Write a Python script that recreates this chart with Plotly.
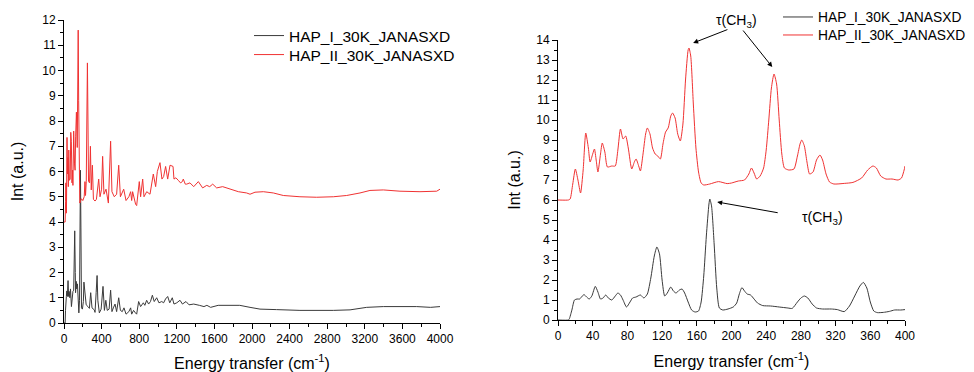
import plotly.graph_objects as go

# ---------------- Left panel data (0-4000 cm-1) ----------------
left_red_x = [0, 12, 17, 20, 26, 32, 37, 42, 46, 51, 57, 66, 72, 75, 78, 85, 90, 95, 103, 112, 118,
              124, 132, 141, 146, 151, 156, 162, 168, 185, 200, 215, 223, 229, 237, 243, 249, 255, 261,
              272, 281, 290, 302, 313, 330, 345, 369, 383, 400, 411, 425, 447, 472, 496, 510, 535, 560,
              582, 600, 635, 660, 690, 709, 720, 730, 762, 773, 801, 815, 837, 851, 880, 915, 950, 975,
              993, 1021, 1042, 1060, 1081, 1103, 1128, 1160, 1170, 1190, 1216, 1240, 1259, 1269, 1290,
              1305, 1340, 1380, 1429, 1475, 1518, 1550, 1582, 1624, 1688, 1766, 1855, 1943, 1979, 2032,
              2121, 2227, 2333, 2510, 2688, 2865, 3007, 3149, 3255, 3397, 3574, 3787, 3965, 4000]
left_red_y = [4.0, 4.0, 4.8, 5.55, 4.35, 7.35, 5.9, 6.55, 5.4, 6.85, 5.65, 5.7, 7.55, 7.05, 7.2, 5.55,
              6.05, 5.45, 7.6, 6.3, 6.05, 7.4, 8.35, 6.95, 9.0, 11.6, 8.8, 5.4, 4.75, 4.92, 4.85, 5.0,
              5.6, 5.05, 5.6, 8.0, 10.3, 8.0, 5.6, 5.55, 7.0, 5.27, 6.25, 4.9, 4.83, 4.9, 5.7, 5.0, 5.3,
              6.6, 5.1, 5.3, 4.75, 7.2, 5.2, 5.0, 5.1, 6.25, 5.0, 5.3, 4.85, 5.0, 5.2, 4.85, 5.2, 4.7,
              4.65, 5.6, 5.0, 5.7, 5.0, 5.2, 5.1, 5.9, 5.4, 6.0, 6.35, 5.7, 5.8, 6.2, 5.7, 6.25, 6.2,
              5.7, 5.75, 5.65, 5.55, 5.6, 5.7, 5.5, 5.5, 5.55, 5.4, 5.6, 5.35, 5.45, 5.4, 5.5, 5.35,
              5.4, 5.3, 5.2, 5.15, 5.1, 5.18, 5.2, 5.15, 5.05, 5.0, 4.98, 5.0, 5.05, 5.15, 5.25, 5.27,
              5.22, 5.2, 5.22, 5.3]

left_black_x = [0, 12, 16, 19, 25, 30, 36, 43, 49, 55, 62, 69, 79, 86, 95, 103, 107, 114, 120, 123,
                130, 136, 143, 150, 158, 165, 171, 175, 180, 186, 196, 206, 212, 222, 236, 255, 270,
                284, 298, 322, 330, 342, 352, 360, 376, 395, 415, 430, 445, 460, 480, 496, 510, 525,
                543, 560, 582, 600, 620, 638, 660, 690, 709, 720, 740, 760, 773, 794, 815, 844, 860,
                879, 900, 920, 940, 960, 986, 1010, 1040, 1060, 1080, 1103, 1125, 1152, 1170, 1200,
                1234, 1260, 1298, 1330, 1380, 1440, 1489, 1520, 1560, 1640, 1801, 1870, 1979, 2085,
                2262, 2510, 2865, 3043, 3220, 3397, 3752, 3900, 4000]
left_black_y = [0.0, 0.0, 0.5, 1.0, 1.05, 1.27, 1.05, 1.68, 1.05, 1.25, 1.0, 1.35, 0.65, 1.1, 1.25,
                1.3, 2.1, 3.65, 2.0, 1.2, 1.65, 1.35, 1.55, 0.9, 0.4, 0.9, 4.2, 6.05, 3.8, 0.6, 0.55,
                0.85, 1.62, 1.25, 0.72, 0.65, 0.58, 1.2, 0.6, 0.52, 0.42, 1.2, 1.88, 0.9, 0.4, 0.55,
                1.45, 0.5, 0.9, 0.5, 0.55, 1.3, 0.45, 0.6, 0.75, 0.45, 1.0, 0.5, 0.45, 0.6, 0.35, 0.45,
                0.6, 0.35, 0.5, 0.4, 0.35, 0.85, 0.65, 0.8, 0.7, 0.9, 0.75, 0.85, 1.1, 0.85, 1.0, 0.8,
                0.85, 0.8, 0.95, 1.05, 0.8, 1.0, 0.75, 0.8, 0.9, 0.75, 0.85, 0.72, 0.75, 0.7, 0.65,
                0.7, 0.62, 0.7, 0.72, 0.7, 0.62, 0.55, 0.53, 0.5, 0.5, 0.52, 0.62, 0.65, 0.65, 0.62,
                0.65]

# ---------------- Right panel data (0-400 cm-1) ----------------
right_red_x = [0, 12, 14, 17, 20, 23, 26, 29, 32, 35, 37, 40, 42, 44, 46, 49, 51, 54, 57, 62, 66, 69,
               72, 75, 78, 81, 85, 88, 90, 93, 95, 98, 101, 103, 106, 109, 112, 115, 118, 121, 124,
               127, 130, 132, 135, 138, 141, 144, 147, 150, 151, 153, 156, 159, 162, 165, 168, 175,
               185, 195, 200, 208, 215, 220, 223, 226, 229, 233, 237, 240, 243, 246, 249, 252, 255,
               258, 261, 266, 272, 276, 279, 281, 284, 287, 290, 294, 298, 302, 305, 309, 313, 318,
               330, 340, 350, 357, 363, 367, 372, 378, 385, 392, 396, 399, 400]
right_red_y = [6.0, 6.0, 6.05, 6.8, 7.55, 7.0, 6.35, 7.5, 9.35, 8.6, 7.9, 8.3, 8.55, 8.0, 7.4, 8.3,
               8.85, 8.4, 7.65, 7.7, 7.7, 8.5, 9.55, 9.05, 9.2, 8.6, 7.55, 7.9, 8.05, 7.7, 7.45, 8.3,
               9.3, 9.6, 9.3, 8.6, 8.3, 8.2, 8.05, 8.8, 9.4, 9.6, 10.2, 10.35, 10.1, 9.3, 8.95, 9.8,
               12.0, 13.5, 13.6, 13.2, 10.8, 8.6, 7.4, 6.85, 6.75, 6.8, 6.92, 6.82, 6.85, 6.95, 7.0,
               7.3, 7.6, 7.35, 7.05, 7.2, 7.6, 8.5, 10.0, 11.6, 12.3, 11.8, 10.0, 8.3, 7.6, 7.5, 7.55,
               8.2, 8.8, 9.0, 8.7, 7.9, 7.3, 7.4, 8.0, 8.25, 8.0, 7.3, 6.9, 6.8, 6.83, 6.88, 7.1, 7.5,
               7.7, 7.6, 7.2, 7.05, 7.05, 7.0, 7.1, 7.5, 7.7]

right_black_x = [0, 12, 13, 16, 19, 22, 25, 28, 30, 33, 36, 39, 43, 46, 49, 52, 55, 58, 62, 66, 69,
                 72, 75, 79, 83, 86, 90, 95, 99, 103, 107, 111, 114, 117, 120, 123, 126, 130, 133, 136,
                 140, 143, 146, 150, 154, 158, 162, 165, 168, 171, 174, 175, 177, 180, 183, 186, 190,
                 196, 202, 206, 209, 212, 215, 218, 222, 226, 230, 236, 245, 255, 265, 270, 276, 280,
                 284, 288, 293, 298, 305, 315, 322, 330, 336, 342, 348, 352, 356, 360, 364, 368, 375,
                 382, 388, 395, 400]
right_black_y = [0.0, 0.0, 0.05, 0.5, 1.0, 1.05, 1.05, 1.2, 1.27, 1.15, 1.05, 1.2, 1.68, 1.4, 1.05,
                 1.1, 1.25, 1.1, 1.0, 1.2, 1.35, 1.25, 1.0, 0.65, 0.9, 1.1, 1.15, 1.25, 1.1, 1.3, 2.1,
                 3.2, 3.65, 3.3, 2.0, 1.2, 1.35, 1.65, 1.45, 1.35, 1.5, 1.55, 1.35, 0.9, 0.5, 0.4,
                 0.45, 0.9, 2.2, 4.2, 5.8, 6.05, 5.7, 3.8, 1.6, 0.6, 0.5, 0.55, 0.65, 0.85, 1.3, 1.62,
                 1.45, 1.3, 1.25, 1.05, 0.85, 0.72, 0.7, 0.65, 0.6, 0.58, 0.9, 1.1, 1.2, 1.1, 0.8, 0.6,
                 0.55, 0.55, 0.52, 0.42, 0.7, 1.2, 1.7, 1.88, 1.6, 0.9, 0.45, 0.37, 0.38, 0.43, 0.5,
                 0.5, 0.52]

name_I = "HAP_I_30K_JANASXD"
name_II = "HAP_II_30K_JANASXD"
BLACK = "#3a3a3a"
RED = "#f03232"
FONT = "Liberation Sans, Arial, sans-serif"

# The page body has an 8px margin, so the figure is drawn 8px in from the window corner.
OFF = 8
W, H = 974 - OFF, 372 - OFF


def px_x(p):
    return (p - OFF) / W


def px_y(p):
    return 1 - (p - OFF) / H


fig = go.Figure()
fig.add_trace(go.Scatter(x=left_black_x, y=left_black_y, mode="lines", name=name_I,
                         line=dict(color=BLACK, width=1), xaxis="x", yaxis="y", legend="legend"))
fig.add_trace(go.Scatter(x=left_red_x, y=left_red_y, mode="lines", name=name_II,
                         line=dict(color=RED, width=1), xaxis="x", yaxis="y", legend="legend2"))
fig.add_trace(go.Scatter(x=right_black_x, y=right_black_y, mode="lines", name=name_I,
                         line=dict(color=BLACK, width=1, shape="spline", smoothing=0.6),
                         xaxis="x2", yaxis="y2", legend="legend3"))
fig.add_trace(go.Scatter(x=right_red_x, y=right_red_y, mode="lines", name=name_II,
                         line=dict(color=RED, width=1, shape="spline", smoothing=0.6),
                         xaxis="x2", yaxis="y2", legend="legend4"))

axis_common = dict(showline=True, linecolor="black", linewidth=1, ticks="outside", ticklen=5,
                   tickcolor="black", tickwidth=1, showgrid=False, zeroline=False, mirror=False,
                   automargin=False, tickfont=dict(family=FONT, size=12, color="black"))


def xtitle():
    return dict(text="Energy transfer (cm<sup>-1</sup>)",
                font=dict(family=FONT, size=16, color="black"), standoff=13)


def ytitle(standoff):
    return dict(text="Int (a.u.)", font=dict(family=FONT, size=16, color="black"), standoff=standoff)


def leg(xp, yp, size):
    return dict(x=px_x(xp), y=px_y(yp), xanchor="left", yanchor="middle", bgcolor="rgba(0,0,0,0)",
                font=dict(family=FONT, size=size, color="black"), itemwidth=30,
                borderwidth=0)


fig.update_layout(
    width=W, height=H,
    margin=dict(l=0, r=0, t=0, b=0, autoexpand=False),
    paper_bgcolor="white", plot_bgcolor="white",
    font=dict(family=FONT, color="black"),
    xaxis=dict(domain=[px_x(64), px_x(440)], range=[0, 4000], dtick=400, tick0=0, anchor="y",
               minor=dict(ticks="outside", ticklen=3, dtick=200, tickcolor="black"),
               title=xtitle(), **axis_common),
    yaxis=dict(domain=[px_y(323), px_y(20)], range=[0, 12], dtick=1, tick0=0, anchor="x",
               minor=dict(ticks="outside", ticklen=3, dtick=0.5, tickcolor="black"),
               title=ytitle(14), **axis_common),
    xaxis2=dict(domain=[px_x(558), px_x(905)], range=[0, 400], dtick=40, tick0=0, anchor="y2",
                minor=dict(ticks="outside", ticklen=3, dtick=20, tickcolor="black"),
                title=xtitle(), **axis_common),
    yaxis2=dict(domain=[px_y(320), px_y(40)], range=[0, 14], dtick=1, tick0=0, anchor="x2",
                minor=dict(ticks="outside", ticklen=3, dtick=0.5, tickcolor="black"),
                title=ytitle(11), **axis_common),
    legend=leg(249, 36, 15.5),
    legend2=leg(249, 55, 15.5),
    legend3=leg(778, 17, 13.8),
    legend4=leg(778, 35, 13.8),
    showlegend=True,
)

tau = "τ(CH<sub>3</sub>)"
ann_font = dict(family=FONT, size=14, color="black")
fig.add_annotation(x=206, y=px_y(21), xref="x2", yref="paper", yanchor="middle", xanchor="center",
                   text=tau, showarrow=False, font=ann_font)
fig.add_annotation(x=155.8, y=13.85, ax=197, ay=14.55, xref="x2", yref="y2", axref="x2", ayref="y2",
                   text="", showarrow=True, arrowhead=2, arrowsize=1, arrowwidth=1, arrowcolor="black")
fig.add_annotation(x=247, y=12.65, ax=212, ay=14.55, xref="x2", yref="y2", axref="x2", ayref="y2",
                   text="", showarrow=True, arrowhead=2, arrowsize=1, arrowwidth=1, arrowcolor="black")
fig.add_annotation(x=305, y=5.1, xref="x2", yref="y2", yanchor="middle", xanchor="center",
                   text=tau, showarrow=False, font=ann_font)
fig.add_annotation(x=183.5, y=5.9, ax=255, ay=5.35, xref="x2", yref="y2", axref="x2", ayref="y2",
                   text="", showarrow=True, arrowhead=2, arrowsize=1, arrowwidth=1, arrowcolor="black")

fig.write_html("out.html")
